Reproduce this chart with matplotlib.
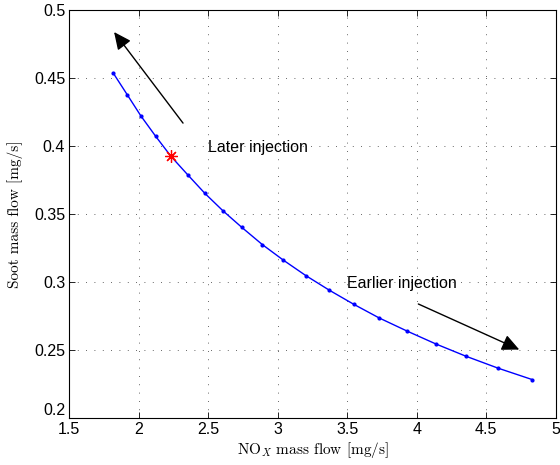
import matplotlib
matplotlib.use("Agg")
import matplotlib.pyplot as plt

nox = [1.817, 1.917, 2.014, 2.122, 2.232, 2.352, 2.476, 2.606, 2.742, 2.888,
       3.040, 3.201, 3.371, 3.546, 3.728, 3.932, 4.138, 4.354, 4.586, 4.829]
soot = [0.4535, 0.4377, 0.4223, 0.4071, 0.3924, 0.3789, 0.3652, 0.3524, 0.3402, 0.3277,
        0.3162, 0.3049, 0.2941, 0.2838, 0.2738, 0.2640, 0.2546, 0.2456, 0.2368, 0.2285]
opt_nox = [2.232]
opt_soot = [0.3924]

xticks = [1.5, 2, 2.5, 3, 3.5, 4, 4.5, 5]
yticks = [0.2, 0.25, 0.3, 0.35, 0.4, 0.45, 0.5]
xticklabels = ['1.5', '2', '2.5', '3', '3.5', '4', '4.5', '5']
yticklabels = ['0.2', '0.25', '0.3', '0.35', '0.4', '0.45', '0.5']

plt.rcParams['mathtext.fontset'] = 'cm'
plt.rcParams['font.family'] = ['Liberation Sans', 'DejaVu Sans']

fig = plt.figure(figsize=(5.6, 4.65), dpi=100)
ax = fig.add_axes([0.1238, 0.1004, 0.8687, 0.8781])

ax.plot(nox, soot, '-', color=(0, 0, 1), lw=1.0, marker='.', markersize=4)
ax.plot(opt_nox, opt_soot, marker=(8, 2, 0), linestyle='none', color=(1, 0, 0),
        markersize=9, markeredgewidth=0.9)

ax.set_xlim(1.5, 5)
ax.set_ylim(0.2, 0.5)
ax.set_xticks(xticks)
ax.set_xticklabels(xticklabels)
ax.set_yticks(yticks)
ax.set_yticklabels(yticklabels)
ax.tick_params(direction='in', length=4, width=0.6, labelsize=11.5, pad=3,
               top=True, right=True)
ax.get_yticklabels()[0].set_va('bottom')
ax.grid(True, linestyle=(0, (1, 9)), color='0.2', linewidth=0.6)
for s in ax.spines.values():
    s.set_linewidth(0.8)

ax.set_xlabel(r'NO$_X$ mass flow [mg/s]', family='cmr10', fontsize=11, labelpad=2)
ax.set_ylabel('Soot mass flow [mg/s]', family='cmr10', fontsize=11, labelpad=8)

ap = dict(arrowstyle='-|>,head_length=0.75,head_width=0.35', color='k', lw=1.0,
          mutation_scale=14, shrinkA=0, shrinkB=0)
ax.annotate('', xy=(1.822, 0.4838), xytext=(2.318, 0.4169), arrowprops=ap)
ax.annotate('', xy=(4.737, 0.2505), xytext=(4.011, 0.2840), arrowprops=ap)
ax.text(2.499, 0.399, 'Later injection', fontsize=11.5, va='center', ha='left')
ax.text(3.499, 0.2993, 'Earlier injection', fontsize=11.5, va='center', ha='left')

fig.savefig('out.png', dpi=100)
